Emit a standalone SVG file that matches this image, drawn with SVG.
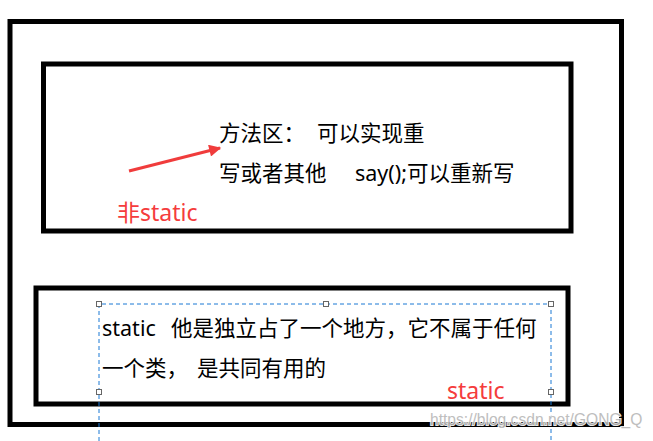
<svg xmlns="http://www.w3.org/2000/svg" width="653" height="441" viewBox="0 0 653 441">
<style>
.box{fill:none;stroke:#000;stroke-width:5}
.t{font-family:"Noto Sans","Noto Sans CJK SC",sans-serif;font-size:21.5px;fill:#000}
.r{font-family:"Noto Sans","Noto Sans CJK SC",sans-serif;font-size:23px;fill:#f53c3c}
.sel{fill:none;stroke:#1a78d4;stroke-width:1;stroke-dasharray:4 3}
.h{fill:#fff;stroke:#666;stroke-width:1}
.wm{font-family:"Liberation Sans",Arial,sans-serif;font-size:15.6px;fill:#b8b8b8;stroke:#fff;stroke-width:2;paint-order:stroke;opacity:0.9}
</style>
<defs>
<marker id="ah" viewBox="0 0 10 10" refX="9" refY="5" markerWidth="6" markerHeight="4" orient="auto" markerUnits="strokeWidth">
<path d="M0,0 L10,5 L0,10 z" fill="#f03c3c"/>
</marker>
</defs>
<rect width="653" height="441" fill="#fff"/>
<g id="outer"><rect class="box" x="10" y="21.5" width="611.5" height="403"/></g>
<g id="methodArea">
<rect class="box" x="43.5" y="64" width="527.5" height="167"/>
<text class="t" x="219" y="141">方法区：<tspan x="317">可以实现重</tspan></text>
<text class="t" x="219" y="181">写或者其他<tspan x="355">say();可以重新写</tspan></text>
<text class="r" x="117" y="221">非static</text>
</g>
<g id="staticArea">
<rect class="box" x="36" y="288" width="532" height="116"/>
<text class="t" x="102" y="336">static<tspan x="171">他是独立占了一个地方，它不属于任何</tspan></text>
<text class="t" x="102" y="376">一个类，<tspan x="197">是共同有用的</tspan></text>
<text class="r" x="447" y="399">static</text>
</g>
<g id="selection">
<path class="sel" d="M99,441 V304 H551 V441"/>
<rect class="h" x="96.5" y="301.5" width="5" height="5"/>
<rect class="h" x="323.5" y="301.5" width="5" height="5"/>
<rect class="h" x="548.5" y="301.5" width="5" height="5"/>
<rect class="h" x="96.5" y="389.5" width="5" height="5"/>
<rect class="h" x="548.5" y="389.5" width="5" height="5"/>
</g>
<g id="connectors">
<line x1="129" y1="171" x2="220" y2="148" stroke="#f03c3c" stroke-width="3" marker-end="url(#ah)"/>
</g>
<text class="wm" x="430" y="425">https://blog.csdn.net/GONG_Q</text>
</svg>
